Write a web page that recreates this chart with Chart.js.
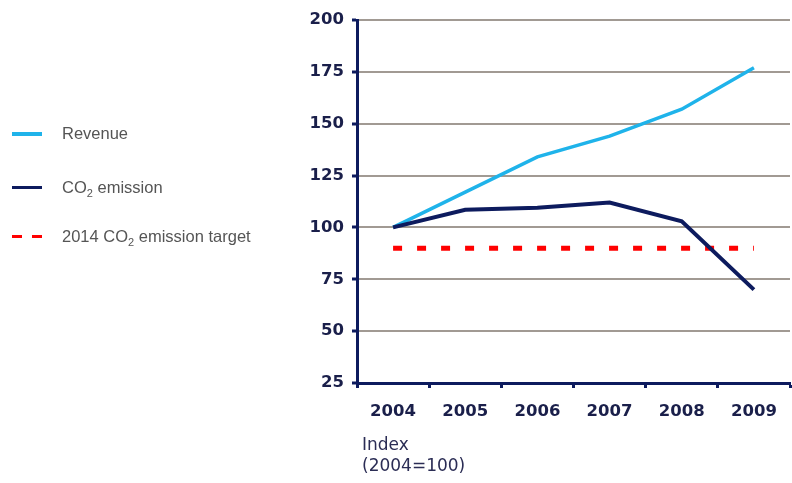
<!DOCTYPE html>
<html lang="en">
  <head>
    <meta charset="UTF-8" />
    <title>Revenue vs CO2 emission</title>
    <script src="https://cdn.jsdelivr.net/npm/chart.js"></script>
    <style>
      * {
        margin: 0;
        padding: 0;
        box-sizing: border-box;
      }
      body {
        width: 792px;
        height: 483px;
        background: #fff;
        position: relative;
        overflow: hidden;
        font-family: Arial, "Liberation Sans", sans-serif;
      }
      #wrap {
        position: absolute;
        left: 0;
        top: 0;
        width: 792px;
        height: 483px;
      }
      .legend {
        position: absolute;
        left: 12px;
        font-size: 16.5px;
        color: #555;
      }
      .legend .item {
        position: absolute;
        left: 0;
        white-space: nowrap;
        height: 20px;
        line-height: 20px;
      }
      .legend .swatch {
        position: absolute;
        left: 0;
        top: 9px;
        width: 30px;
        height: 3px;
      }
      .legend .label {
        position: absolute;
        left: 50px;
        top: 0;
      }
      sub {
        font-size: 11px;
        vertical-align: -4px;
        line-height: 0;
      }
      .note {
        position: absolute;
        left: 362px;
        top: 434px;
        font-family: Verdana, "DejaVu Sans", sans-serif;
        font-size: 17px;
        line-height: 21px;
        color: #2b2d55;
      }
    </style>
  </head>
  <body>
    <div id="wrap"><canvas id="chart" width="792" height="483"></canvas></div>

    <div class="legend">
      <div class="item" style="top: 123px">
        <div class="swatch" style="background: #1fb3ea; height: 4px"></div>
        <span class="label">Revenue</span>
      </div>
      <div class="item" style="top: 177px">
        <div class="swatch" style="background: #0d1b5e"></div>
        <span class="label">CO<sub>2</sub> emission</span>
      </div>
      <div class="item" style="top: 226px">
        <div class="swatch" style="background: linear-gradient(to right, #ff0000 0 10px, transparent 10px 20px, #ff0000 20px 30px)"></div>
        <span class="label">2014 CO<sub>2</sub> emission target</span>
      </div>
    </div>

    <div class="note">Index<br />(2004=100)</div>

    <script>
      const years = ["2004", "2005", "2006", "2007", "2008", "2009"];
      const revenue = [100, 117, 134, 144, 157, 177];
      const co2 = [100, 108.5, 109.5, 112, 103, 70];
      const target = [90, 90, 90, 90, 90, 90];
      const yMin = 25;
      const yMax = 200;
      const yStep = 25;

      const navy = "#0d1b5e";
      const tickFont = { family: "Verdana, 'DejaVu Sans', sans-serif", size: 16.5, weight: "bold" };

      const ctx = document.getElementById("chart").getContext("2d");
      new Chart(ctx, {
        type: "line",
        data: {
          labels: years,
          datasets: [
            {
              label: "2014 CO2 emission target",
              data: target,
              borderColor: "#ff0000",
              borderWidth: 5,
              borderDash: [9, 15],
              borderCapStyle: "butt",
              pointRadius: 0,
              order: 3,
            },
            {
              label: "CO2 emission",
              data: co2,
              borderColor: navy,
              borderWidth: 4,
              pointRadius: 0,
              order: 1,
            },
            {
              label: "Revenue",
              data: revenue,
              borderColor: "#1fb3ea",
              borderWidth: 3.5,
              pointRadius: 0,
              order: 2,
            },
          ],
        },
        options: {
          responsive: false,
          animation: false,
          layout: { padding: { top: 20, right: 2, left: 0, bottom: 0 } },
          plugins: {
            legend: { display: false },
            tooltip: { enabled: false },
          },
          scales: {
            x: {
              offset: true,
              border: { color: navy, width: 3 },
              grid: {
                offset: true,
                drawOnChartArea: false,
                drawTicks: true,
                tickLength: 5,
                tickWidth: 3,
                tickColor: navy,
              },
              ticks: { color: "#1a1f4a", font: tickFont, padding: 14 },
              afterFit: (s) => {
                s.height = 100;
              },
            },
            y: {
              min: yMin,
              max: yMax,
              border: { color: navy, width: 3 },
              grid: {
                color: "#a19a93",
                lineWidth: 2,
                tickLength: 5,
                tickWidth: 3,
                tickColor: navy,
              },
              ticks: {
                stepSize: yStep,
                color: "#1a1f4a",
                font: tickFont,
                padding: 8,
              },
              afterFit: (s) => {
                s.width = 357;
              },
            },
          },
        },
      });
    </script>
  </body>
</html>
